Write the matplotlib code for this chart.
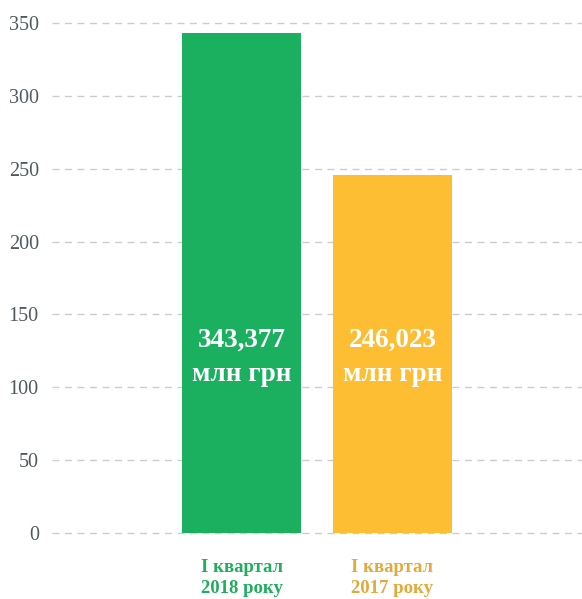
import matplotlib
matplotlib.use("Agg")
import matplotlib.pyplot as plt

categories = ["I квартал\n2018 року", "I квартал\n2017 року"]
values = [343.377, 246.023]
value_labels = ["343,377\nмлн грн", "246,023\nмлн грн"]
bar_colors = ["#1BB060", "#FDBE33"]
label_colors = ["#1FAE5E", "#E2AA3A"]
yticks = [0, 50, 100, 150, 200, 250, 300, 350]

plt.rcParams['font.family'] = ['Liberation Serif', 'DejaVu Serif']

fig = plt.figure(figsize=(5.82, 5.99), dpi=100)
ax = fig.add_axes([52/582, 66/599, 1 - 52/582, (533-23)/599])

x = list(range(len(categories)))
bars = ax.bar(x, values, width=0.788, color=bar_colors, zorder=3)

ax.set_ylim(0, 350)
ax.set_xlim(-1.255, 2.255)
ax.set_yticks(yticks)
ax.set_yticklabels([str(v) for v in yticks], fontsize=14.5, color="#4F5A5E")
ax.yaxis.grid(True, linestyle=(0, (5, 4)), color="#CCCCCC", linewidth=1.0, zorder=0)
for gl in ax.get_ygridlines():
    gl.set_clip_on(False)
ax.set_axisbelow(True)
for s in ax.spines.values():
    s.set_visible(False)
ax.tick_params(axis='y', length=0, pad=9.5)
ax.tick_params(axis='x', length=0, pad=19)

ax.set_xticks(x)
ax.set_xticklabels(categories, fontsize=13.5, fontweight='bold', linespacing=1.3)
for lbl, c in zip(ax.get_xticklabels(), label_colors):
    lbl.set_color(c)

for xi, lab in zip(x, value_labels):
    ax.text(xi, 120.6, lab, ha='center', va='center', color='white',
            fontsize=19.5, fontweight='bold', linespacing=1.45, zorder=4)

fig.savefig("out.png", dpi=100)
